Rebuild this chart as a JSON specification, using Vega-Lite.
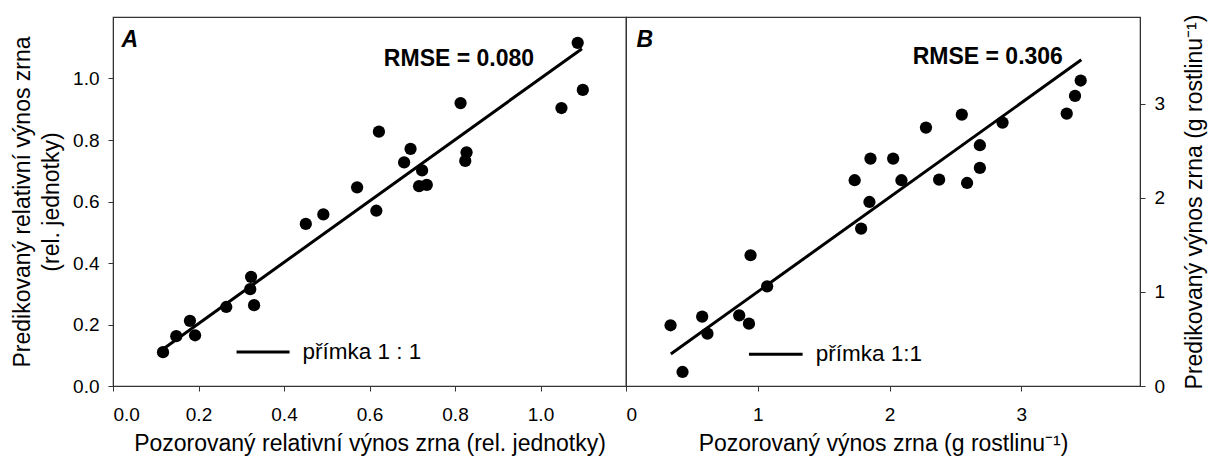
{
  "$schema": "https://vega.github.io/schema/vega-lite/v6.json",
  "padding": {"left": 10, "top": 13, "right": 0, "bottom": 0},
  "spacing": 0,
  "bounds": "flush",
  "config": {
    "font": "Liberation Sans",
    "view": {"stroke": "#333", "strokeWidth": 1.2},
    "axis": {
      "grid": false,
      "domainColor": "#333",
      "tickColor": "#333",
      "tickSize": 5,
      "labelColor": "black",
      "titleColor": "black",
      "labelFontSize": 19,
      "titleFontSize": 23,
      "titleFontWeight": "normal",
      "labelFont": "Liberation Sans",
      "titleFont": "Liberation Sans"
    }
  },
  "datasets": {
    "a": [
      {"obs": 0.117, "pred": 0.110},
      {"obs": 0.148, "pred": 0.162},
      {"obs": 0.180, "pred": 0.212},
      {"obs": 0.192, "pred": 0.165},
      {"obs": 0.265, "pred": 0.257},
      {"obs": 0.323, "pred": 0.355},
      {"obs": 0.321, "pred": 0.315},
      {"obs": 0.330, "pred": 0.263},
      {"obs": 0.451, "pred": 0.527},
      {"obs": 0.492, "pred": 0.558},
      {"obs": 0.571, "pred": 0.646},
      {"obs": 0.616, "pred": 0.570},
      {"obs": 0.622, "pred": 0.827},
      {"obs": 0.681, "pred": 0.727},
      {"obs": 0.696, "pred": 0.771},
      {"obs": 0.723, "pred": 0.701},
      {"obs": 0.716, "pred": 0.650},
      {"obs": 0.734, "pred": 0.654},
      {"obs": 0.813, "pred": 0.920},
      {"obs": 0.827, "pred": 0.760},
      {"obs": 0.824, "pred": 0.732},
      {"obs": 1.049, "pred": 0.904},
      {"obs": 1.087, "pred": 1.116},
      {"obs": 1.099, "pred": 0.963}
    ],
    "b": [
      {"obs": 3.450, "pred": 3.245},
      {"obs": 3.407, "pred": 3.082},
      {"obs": 3.344, "pred": 2.894},
      {"obs": 2.548, "pred": 2.883},
      {"obs": 2.857, "pred": 2.798},
      {"obs": 2.276, "pred": 2.745},
      {"obs": 2.685, "pred": 2.558},
      {"obs": 2.685, "pred": 2.317},
      {"obs": 2.588, "pred": 2.157},
      {"obs": 2.376, "pred": 2.192},
      {"obs": 2.027, "pred": 2.416},
      {"obs": 1.855, "pred": 2.416},
      {"obs": 1.735, "pred": 2.186},
      {"obs": 2.090, "pred": 2.186},
      {"obs": 1.847, "pred": 1.955},
      {"obs": 1.784, "pred": 1.672},
      {"obs": 0.945, "pred": 1.389},
      {"obs": 1.071, "pred": 1.059},
      {"obs": 0.578, "pred": 0.737},
      {"obs": 0.338, "pred": 0.645},
      {"obs": 0.618, "pred": 0.556},
      {"obs": 0.859, "pred": 0.751},
      {"obs": 0.933, "pred": 0.662},
      {"obs": 0.429, "pred": 0.149}
    ],
    "la": [{"obs": 0.115, "pred": 0.118}, {"obs": 1.097, "pred": 1.097}],
    "lb": [{"obs": 0.34, "pred": 0.34}, {"obs": 3.455, "pred": 3.465}],
    "one": [{"k": 1}]
  },
  "hconcat": [
    {
      "width": 513,
      "height": 369,
      "layer": [
        {
          "data": {"name": "la"},
          "mark": {"type": "line", "color": "black", "strokeWidth": 3},
          "encoding": {
            "x": {
              "field": "obs", "type": "quantitative",
              "scale": {"domain": [0, 1.2], "nice": false, "zero": false},
              "axis": {
                "title": "Pozorovaný relativní výnos zrna (rel. jednotky)",
                "values": [0, 0.2, 0.4, 0.6, 0.8, 1.0],
                "format": ".1f",
                "labelPadding": 14,
                "titlePadding": 8
              }
            },
            "y": {
              "field": "pred", "type": "quantitative",
              "scale": {"domain": [0, 1.2], "nice": false, "zero": false},
              "axis": {
                "title": ["Predikovaný relativní výnos zrna", "(rel. jednotky)"],
                "values": [0, 0.2, 0.4, 0.6, 0.8, 1.0],
                "format": ".1f",
                "labelPadding": 9,
                "titlePadding": 9,
                "titleLineHeight": 29
              }
            }
          }
        },
        {
          "data": {"name": "a"},
          "mark": {"type": "circle", "size": 150, "color": "black", "opacity": 1},
          "encoding": {
            "x": {"field": "obs", "type": "quantitative"},
            "y": {"field": "pred", "type": "quantitative"}
          }
        },
        {
          "data": {"name": "one"},
          "mark": {"type": "rule", "color": "black", "strokeWidth": 3},
          "encoding": {"x": {"datum": 0.289}, "x2": {"datum": 0.413}, "y": {"datum": 0.1106}}
        },
        {
          "data": {"name": "one"},
          "mark": {"type": "text", "align": "left", "baseline": "middle", "fontSize": 22.5, "font": "Liberation Sans", "text": "přímka 1 : 1"},
          "encoding": {"x": {"datum": 0.443}, "y": {"datum": 0.1106}}
        },
        {
          "data": {"name": "one"},
          "mark": {"type": "text", "align": "right", "baseline": "middle", "fontSize": 23, "fontWeight": "bold", "font": "Liberation Sans", "text": "RMSE = 0.080"},
          "encoding": {"x": {"datum": 0.985}, "y": {"datum": 1.064}}
        },
        {
          "data": {"name": "one"},
          "mark": {"type": "text", "align": "left", "baseline": "middle", "fontSize": 23, "fontWeight": "bold", "fontStyle": "italic", "font": "Liberation Sans", "text": "A"},
          "encoding": {"x": {"datum": 0.02}, "y": {"datum": 1.124}}
        }
      ]
    },
    {
      "width": 514,
      "height": 369,
      "layer": [
        {
          "data": {"name": "lb"},
          "mark": {"type": "line", "color": "black", "strokeWidth": 3},
          "encoding": {
            "x": {
              "field": "obs", "type": "quantitative",
              "scale": {"domain": [0, 3.9], "nice": false, "zero": false},
              "axis": {
                "title": "Pozorovaný výnos zrna (g rostlinu⁻¹)",
                "values": [0, 1, 2, 3],
                "format": "d",
                "labelPadding": 14,
                "titlePadding": 8
              }
            },
            "y": {
              "field": "pred", "type": "quantitative",
              "scale": {"domain": [0, 3.92], "nice": false, "zero": false},
              "axis": {
                "orient": "right",
                "title": "Predikovaný výnos zrna (g rostlinu⁻¹)",
                "values": [0, 1, 2, 3],
                "format": "d",
                "labelPadding": 9,
                "titlePadding": 19,
                "titleAngle": 270,
                "titleBaseline": "top"
              }
            }
          }
        },
        {
          "data": {"name": "b"},
          "mark": {"type": "circle", "size": 150, "color": "black", "opacity": 1},
          "encoding": {
            "x": {"field": "obs", "type": "quantitative"},
            "y": {"field": "pred", "type": "quantitative"}
          }
        },
        {
          "data": {"name": "one"},
          "mark": {"type": "rule", "color": "black", "strokeWidth": 3},
          "encoding": {"x": {"datum": 0.933}, "x2": {"datum": 1.34}, "y": {"datum": 0.337}}
        },
        {
          "data": {"name": "one"},
          "mark": {"type": "text", "align": "left", "baseline": "middle", "fontSize": 22.5, "font": "Liberation Sans", "text": "přímka 1:1"},
          "encoding": {"x": {"datum": 1.44}, "y": {"datum": 0.337}}
        },
        {
          "data": {"name": "one"},
          "mark": {"type": "text", "align": "right", "baseline": "middle", "fontSize": 23, "fontWeight": "bold", "font": "Liberation Sans", "text": "RMSE = 0.306"},
          "encoding": {"x": {"datum": 3.315}, "y": {"datum": 3.496}}
        },
        {
          "data": {"name": "one"},
          "mark": {"type": "text", "align": "left", "baseline": "middle", "fontSize": 23, "fontWeight": "bold", "fontStyle": "italic", "font": "Liberation Sans", "text": "B"},
          "encoding": {"x": {"datum": 0.08}, "y": {"datum": 3.673}}
        }
      ]
    }
  ]
}
